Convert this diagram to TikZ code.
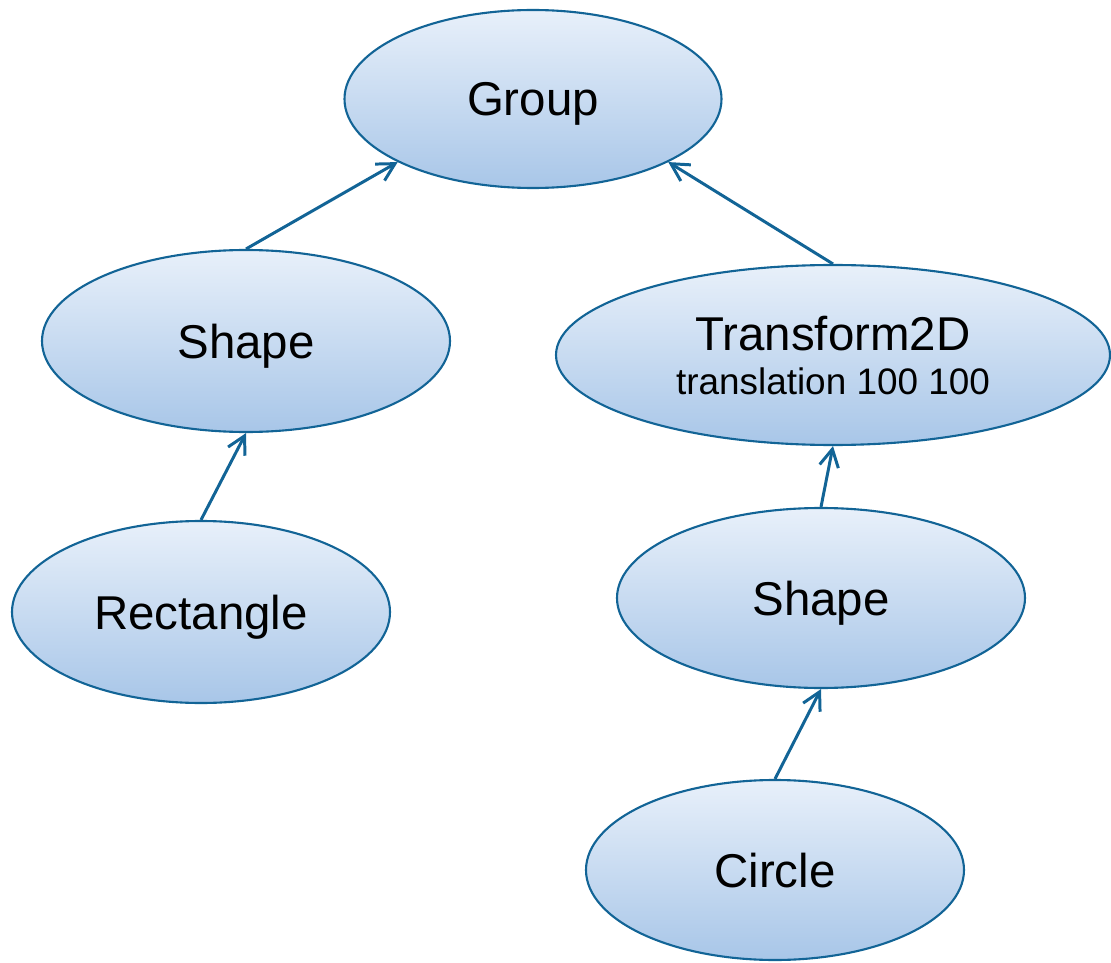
\documentclass[tikz,border=0pt]{standalone}
\usepackage{fontspec}
\setmainfont{Liberation Sans}
\usepackage{tikz}
\usetikzlibrary{shapes,arrows.meta,positioning}

\definecolor{rimblue}{RGB}{18,100,150}
\definecolor{topblue}{RGB}{232,240,250}
\definecolor{botblue}{RGB}{168,198,232}

\tikzset{
  blob/.style={ellipse, draw=rimblue, line width=1.2pt, top color=topblue, bottom color=botblue,
    inner sep=0pt, text depth=0pt, font=\fontsize{27}{26}\selectfont, align=center},
  uplink/.style={draw=rimblue, line width=1.7pt, -{Straight Barb[length=3.5mm,width=3.8mm]}}
}

\begin{document}
\begin{tikzpicture}
 \useasboundingbox (0,0) rectangle (22.22,-19.26);
 \node[blob, minimum width=7.54cm, minimum height=3.56cm] (group) at (10.66,-1.98) {Group};
 \node[blob, minimum width=8.16cm, minimum height=3.64cm] (shapeA) at (4.92,-6.82) {Shape};
 \node[blob, minimum width=11.08cm, minimum height=3.6cm] (xform) at (16.66,-7.10)
   {Transform2D\\[-1pt]{\fontsize{21}{26}\selectfont translation 100 100}};
 \node[blob, minimum width=7.56cm, minimum height=3.64cm] (rect) at (4.02,-12.24) {Rectangle};
 \node[blob, minimum width=8.16cm, minimum height=3.6cm] (shapeB) at (16.42,-11.96) {Shape};
 \node[blob, minimum width=7.56cm, minimum height=3.6cm] (circ) at (15.50,-17.40) {Circle};

 \draw[uplink] (shapeA.north) -- (group.205);
 \draw[uplink] (xform.north) -- (group.-25);
 \draw[uplink] (rect.north) -- (shapeA.south);
 \draw[uplink] (shapeB.north) -- (xform.south);
 \draw[uplink] (circ.north) -- (shapeB.south);
\end{tikzpicture}
\end{document}
